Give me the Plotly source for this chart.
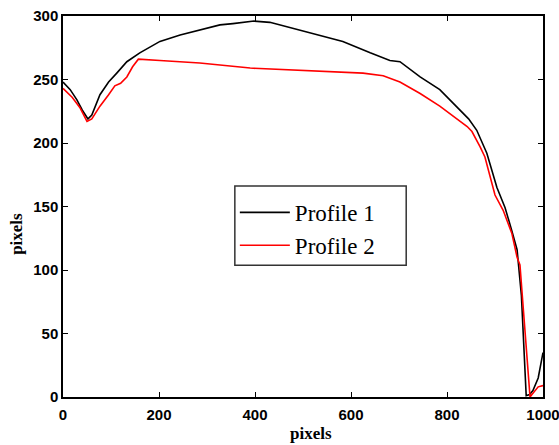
import plotly.graph_objects as go

# Profile 1 (black)
p1_x = [0, 15, 29, 40, 52, 60, 77, 95, 112, 133, 160, 202, 244, 285, 327, 354, 398, 431,
        494, 535, 583, 640, 681, 702, 744, 785, 821, 845, 862, 883, 904, 921, 935, 946,
        955, 965, 972, 979, 990, 1000]
p1_y = [248, 242, 234, 226, 219, 222, 238, 248, 255, 264, 271, 280, 285, 289, 293, 294, 296, 295,
        289, 285, 280, 271, 265, 264, 252, 242, 228, 219, 210, 192, 165, 149, 131, 116,
        80, 1, 2, 5, 15, 35]

# Profile 2 (red)
p2_x = [0, 19, 35, 50, 60, 77, 95, 108, 120, 133, 145, 157, 202, 285, 390, 450, 515, 625,
        667, 702, 744, 785, 842, 852, 869, 879, 900, 917, 935, 946, 952, 973, 977, 990, 1000]
p2_y = [243, 236, 228, 217, 219, 229, 238, 245, 247, 252, 260, 266, 265, 263, 259, 258, 257, 255,
        253, 248, 239, 229, 213, 209, 197, 189, 159, 147, 129, 110, 104, 0, 2, 8, 9]

x_ticks = [0, 200, 400, 600, 800, 1000]
y_ticks = [0, 50, 100, 150, 200, 250, 300]

fig = go.Figure()
fig.add_trace(go.Scatter(x=p1_x, y=p1_y, mode="lines", name="Profile 1",
                         line=dict(color="black", width=1.6)))
fig.add_trace(go.Scatter(x=p2_x, y=p2_y, mode="lines", name="Profile 2",
                         line=dict(color="#ff0000", width=1.6)))

tickfont = dict(family="Liberation Sans", size=15, color="black", weight="bold")
titlefont = dict(family="Liberation Serif", size=17, color="black", weight="bold")
axis_common = dict(
    showgrid=False, zeroline=False, showline=True, linecolor="black", linewidth=1.5,
    mirror="ticks", ticks="inside", ticklen=5, tickwidth=1, tickcolor="black",
    tickfont=tickfont, automargin=False, ticklabeloverflow="allow",
)

fig.update_layout(
    width=559, height=445,
    margin=dict(l=63, r=16, t=16, b=48),
    plot_bgcolor="white", paper_bgcolor="white",
    xaxis=dict(range=[0, 1000], tickvals=x_ticks, ticktext=[str(v) for v in x_ticks],
               ticklabelstandoff=3, **axis_common),
    yaxis=dict(range=[0, 300], tickvals=y_ticks, ticktext=[str(v) for v in y_ticks],
               **axis_common),
    legend=dict(x=0.358, y=0.541, xanchor="left", yanchor="top",
                borderwidth=0, bgcolor="rgba(0,0,0,0)",
                font=dict(family="Liberation Serif", size=23, color="black"),
                itemwidth=50, tracegroupgap=0),
    showlegend=True,
    shapes=[dict(type="rect", xref="paper", yref="paper",
                 x0=0.358, x1=0.715, y0=0.346, y1=0.554,
                 line=dict(color="#333333", width=1.5), fillcolor="white", layer="below")],
    annotations=[
        dict(text="pixels", xref="paper", yref="paper", x=0.517, y=-0.0945,
             xanchor="center", yanchor="middle", showarrow=False, font=titlefont),
        dict(text="pixels", xref="paper", yref="paper", x=-0.096, y=0.428,
             xanchor="center", yanchor="middle", textangle=-90, showarrow=False, font=titlefont),
    ],
)

fig.write_html(
    "out.html",
    config={"displayModeBar": False},
    post_script="document.body.style.margin='0';document.body.style.overflow='hidden';",
)
